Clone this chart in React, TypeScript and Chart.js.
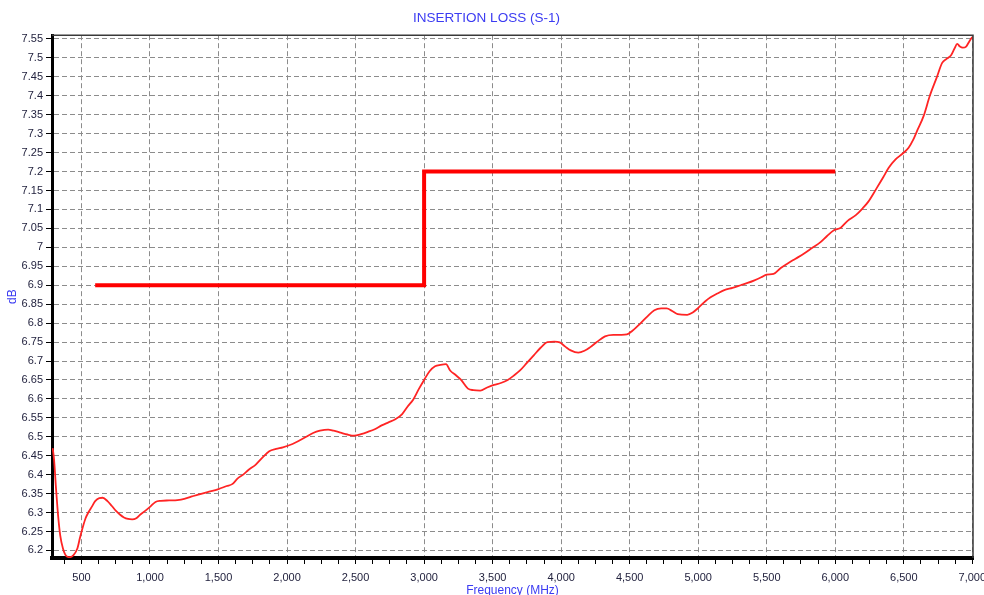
import React, { useEffect, useRef } from 'react';
import { Chart, registerables } from 'chart.js';

Chart.register(...registerables);

// ---------- data ----------
const chartTitle = 'INSERTION LOSS (S-1)';
const xAxisTitle = 'Frequency (MHz)';
const yAxisTitle = 'dB';

const freqMHz = [
  290, 300, 315, 330, 345, 365, 390, 415, 440, 470, 490, 510, 530, 550, 575, 600, 630, 655, 690, 720,
  750, 780, 810, 840, 870, 900, 930, 960, 1000, 1040, 1080, 1140, 1200, 1250, 1300, 1360, 1420, 1500,
  1560, 1600, 1640, 1680, 1720, 1770, 1820, 1870, 1920, 1970, 2040, 2090, 2140, 2190, 2240, 2300, 2340,
  2390, 2440, 2490, 2540, 2590, 2640, 2690, 2740, 2790, 2840, 2880, 2920, 2960, 3000, 3040, 3080, 3120,
  3160, 3190, 3230, 3270, 3320, 3360, 3410, 3460, 3510, 3560, 3610, 3660, 3700, 3750, 3800, 3850, 3900,
  3950, 3990, 4030, 4070, 4125, 4170, 4210, 4260, 4320, 4380, 4440, 4480, 4520, 4575, 4630, 4680, 4730,
  4770, 4810, 4850, 4920, 4960, 5000, 5050, 5090, 5140, 5190, 5250, 5310, 5360, 5410, 5460, 5500, 5550,
  5600, 5650, 5710, 5770, 5830, 5890, 5940, 5990, 6040, 6090, 6150, 6200, 6240, 6300, 6350, 6390, 6440,
  6490, 6535, 6570, 6600, 6645, 6690, 6740, 6780, 6810, 6845, 6870, 6890, 6910, 6930, 6955, 6980, 7000,
];

const insertionLossDb = [
  6.47, 6.44, 6.36, 6.29, 6.24, 6.205, 6.185, 6.182, 6.187, 6.205, 6.235, 6.262, 6.285, 6.3, 6.315, 6.33,
  6.338, 6.339, 6.33, 6.318, 6.305, 6.295, 6.287, 6.283, 6.282, 6.285, 6.295, 6.303, 6.315, 6.328, 6.331,
  6.332, 6.333, 6.336, 6.342, 6.348, 6.354, 6.362, 6.37, 6.375, 6.39, 6.4, 6.413, 6.426, 6.445, 6.462,
  6.468, 6.472, 6.481, 6.49, 6.5, 6.51, 6.516, 6.519, 6.516, 6.511, 6.506, 6.503, 6.507, 6.513, 6.52,
  6.53, 6.538, 6.546, 6.56, 6.58, 6.598, 6.625, 6.65, 6.673, 6.686, 6.69, 6.692, 6.675, 6.663, 6.65,
  6.627, 6.623, 6.622, 6.63, 6.637, 6.642, 6.65, 6.663, 6.675, 6.695, 6.715, 6.735, 6.75, 6.751, 6.749,
  6.738, 6.728, 6.722, 6.727, 6.736, 6.75, 6.765, 6.769, 6.769, 6.77, 6.78, 6.798, 6.818, 6.834, 6.839,
  6.839, 6.832, 6.824, 6.822, 6.828, 6.84, 6.857, 6.868, 6.878, 6.887, 6.893, 6.9, 6.906, 6.913, 6.921,
  6.928, 6.93, 6.945, 6.957, 6.97, 6.983, 6.998, 7.013, 7.03, 7.045, 7.052, 7.07, 7.085, 7.103, 7.12,
  7.155, 7.185, 7.21, 7.232, 7.247, 7.263, 7.285, 7.31, 7.347, 7.4, 7.448, 7.487, 7.497, 7.507, 7.525,
  7.537, 7.53, 7.527, 7.53, 7.545, 7.555,
];

const limitFreqMHz = [600, 3000, 3000, 6000];
const limitDb = [6.9, 6.9, 7.2, 7.2];

const xMajorTicks = [500, 1000, 1500, 2000, 2500, 3000, 3500, 4000, 4500, 5000, 5500, 6000, 6500, 7000];
const yTicks = [
  6.2, 6.25, 6.3, 6.35, 6.4, 6.45, 6.5, 6.55, 6.6, 6.65, 6.7, 6.75, 6.8, 6.85, 6.9, 6.95, 7,
  7.05, 7.1, 7.15, 7.2, 7.25, 7.3, 7.35, 7.4, 7.45, 7.5, 7.55,
];

const X_MIN = 285;
const X_MAX = 7005;
const Y_MIN = 6.18;
const Y_MAX = 7.56;

const FONT = "'Liberation Sans', Arial, sans-serif";
const BLUE = '#3b3bf2';
const TICK_COLOR = '#23233f';
const GRID_COLOR = '#8c8c8c';

const framePlugin = {
  id: 'frameTopRight',
  afterDraw(chart: any) {
    const { ctx, chartArea } = chart;
    const { left, top, right, bottom } = chartArea;
    ctx.save();
    ctx.strokeStyle = '#3a3a3a';
    ctx.lineWidth = 1.5;
    ctx.beginPath();
    ctx.moveTo(left, top);
    ctx.lineTo(right, top);
    ctx.lineTo(right, bottom);
    ctx.stroke();
    ctx.restore();
  },
};

export default function App() {
  const canvasRef = useRef<HTMLCanvasElement | null>(null);

  useEffect(() => {
    if (!canvasRef.current) return;
    const minorStep = (xMajorTicks[1] - xMajorTicks[0]) / 4;
    const isMajor = (v: number) => xMajorTicks.includes(v);

    const chart = new Chart(canvasRef.current, {
      type: 'line',
      data: {
        datasets: [
          {
            label: 'Limit',
            data: limitFreqMHz.map((f, i) => ({ x: f, y: limitDb[i] })),
            borderColor: '#ff0000',
            borderWidth: 4,
            pointRadius: 0,
            borderCapStyle: 'butt',
            borderJoinStyle: 'miter',
            tension: 0,
          },
          {
            label: 'S-1',
            data: freqMHz.map((f, i) => ({ x: f, y: insertionLossDb[i] })),
            borderColor: '#ff2424',
            borderWidth: 1.8,
            pointRadius: 0,
            cubicInterpolationMode: 'monotone',
          },
        ],
      },
      options: {
        animation: false,
        responsive: true,
        maintainAspectRatio: false,
        devicePixelRatio: 1,
        layout: { padding: { left: 0, right: 11, top: 0, bottom: 0 } },
        plugins: {
          legend: { display: false },
          tooltip: { enabled: false },
          title: {
            display: true,
            text: chartTitle,
            color: BLUE,
            font: { family: FONT, size: 13.5, weight: 'normal' },
            padding: { top: 10, bottom: 9 },
          },
        },
        scales: {
          x: {
            type: 'linear',
            min: X_MIN,
            max: X_MAX,
            afterBuildTicks: (scale: any) => {
              const ticks: { value: number }[] = [];
              let v = xMajorTicks[0];
              while (v - minorStep >= scale.min) v -= minorStep;
              for (; v <= xMajorTicks[xMajorTicks.length - 1] + 0.001; v += minorStep) {
                ticks.push({ value: v });
              }
              scale.ticks = ticks;
            },
            afterFit: (scale: any) => {
              scale.height = 37;
              scale.paddingLeft = 0;
              scale.paddingRight = 0;
            },
            ticks: {
              autoSkip: false,
              maxRotation: 0,
              minRotation: 0,
              padding: 7,
              color: TICK_COLOR,
              font: { family: FONT, size: 11 },
              callback: (value: any) => (isMajor(Number(value)) ? Number(value).toLocaleString('en-US') : ''),
            },
            grid: {
              color: (ctx: any) => (ctx.tick && isMajor(ctx.tick.value) ? GRID_COLOR : 'rgba(0,0,0,0)'),
              lineWidth: 1,
              tickColor: '#000',
              tickLength: 6,
              tickWidth: 1,
            },
            border: { display: true, color: '#000', width: 4, dash: [5, 3] },
            title: {
              display: true,
              text: xAxisTitle,
              color: BLUE,
              font: { family: FONT, size: 12 },
              padding: { top: 0, bottom: -3 },
            },
          },
          y: {
            type: 'linear',
            min: Y_MIN,
            max: Y_MAX,
            afterBuildTicks: (scale: any) => {
              scale.ticks = yTicks.map((v) => ({ value: v }));
            },
            afterFit: (scale: any) => {
              scale.width = 52;
              scale.paddingTop = 0;
              scale.paddingBottom = 0;
            },
            ticks: {
              autoSkip: false,
              padding: 3,
              color: TICK_COLOR,
              font: { family: FONT, size: 11 },
              callback: (value: any) => String(Number(Number(value).toFixed(2))),
            },
            grid: {
              color: GRID_COLOR,
              lineWidth: 1,
              tickColor: '#000',
              tickLength: 6,
              tickWidth: 1,
            },
            border: { display: true, color: '#000', width: 3, dash: [5, 3] },
            title: {
              display: true,
              text: yAxisTitle,
              color: BLUE,
              font: { family: FONT, size: 12 },
              padding: { top: 5, bottom: 0 },
            },
          },
        },
      },
      plugins: [framePlugin],
    } as any);

    return () => chart.destroy();
  }, []);

  return (
    <div style={{ position: 'absolute', left: 0, top: 0, width: 984, height: 595, background: '#fff' }}>
      <canvas ref={canvasRef} style={{ display: 'block' }} />
    </div>
  );
}
